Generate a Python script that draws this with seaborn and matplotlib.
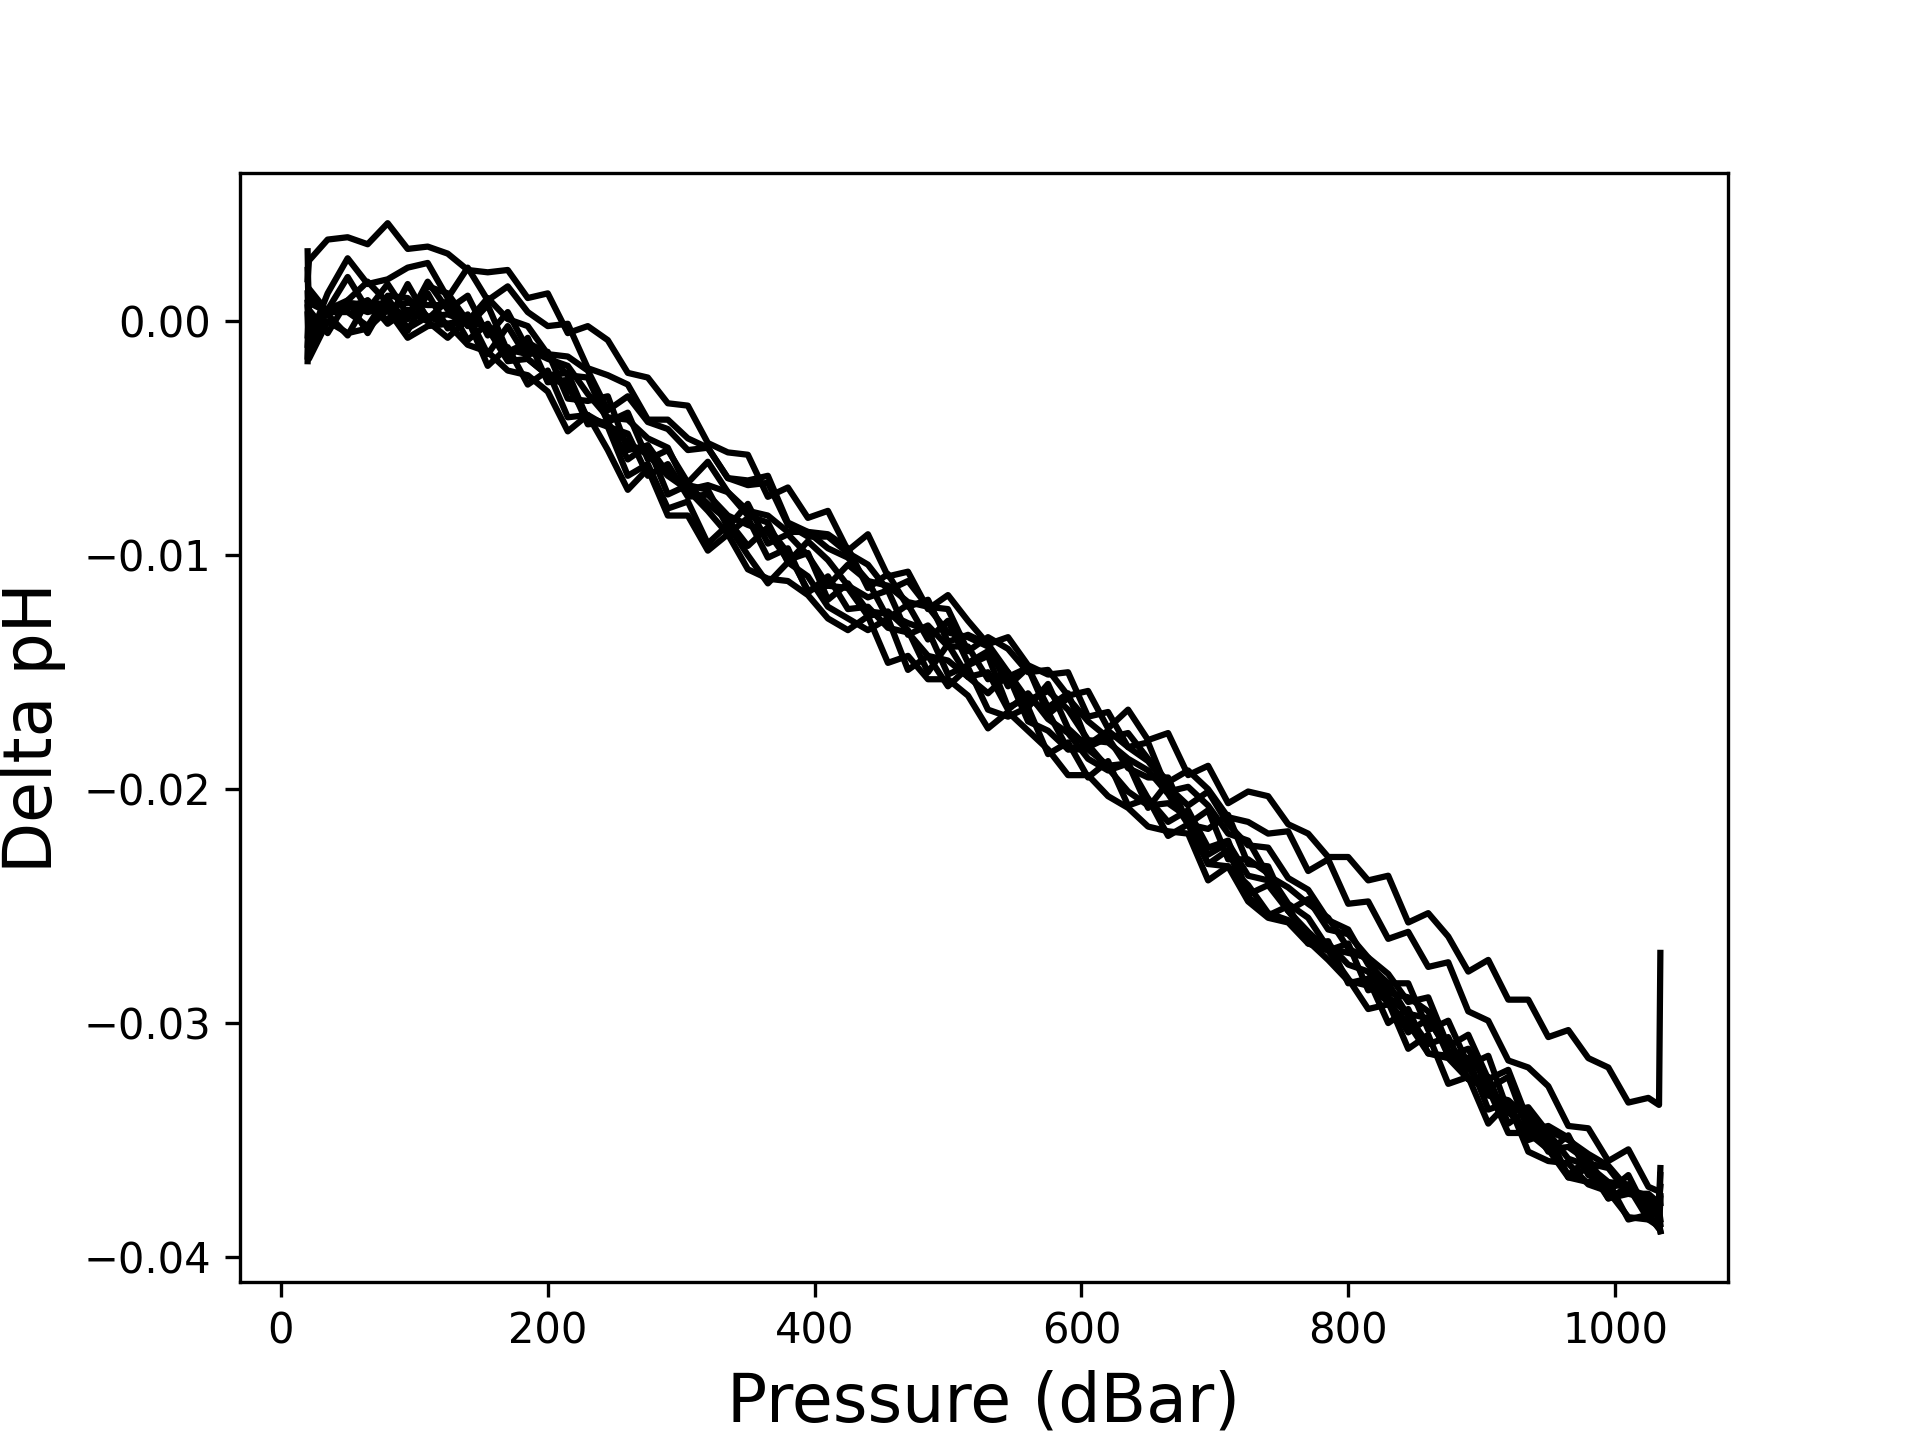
#!/usr/bin/env python3
"""
Delta pH versus pressure for a set of float profiles (all drawn in black).
"""
import pandas as pd
import matplotlib
matplotlib.use("Agg")
import matplotlib.pyplot as plt
import seaborn as sns

# pressure grid shared by every profile (dBar)
pressure = [20, 21, 35, 50, 65, 80, 95, 110, 125, 140,
            155, 170, 185, 200, 215, 230, 245, 260, 275, 290,
            305, 320, 335, 350, 365, 380, 395, 410, 425, 440,
            455, 470, 485, 500, 515, 530, 545, 560, 575, 590,
            605, 620, 635, 650, 665, 680, 695, 710, 725, 740,
            755, 770, 785, 800, 815, 830, 845, 860, 875, 890,
            905, 920, 935, 950, 965, 980, 995, 1010, 1025, 1033,
            1034]

# delta pH, one list per profile
prof_a = [0.0018, 0.0026, 0.0035, 0.0036, 0.0033, 0.0042, 0.0031, 0.0032, 0.0029, 0.0022,
          0.0021, 0.0022, 0.0010, 0.0012, -0.0005, -0.0002, -0.0008, -0.0022, -0.0024, -0.0035,
          -0.0036, -0.0052, -0.0056, -0.0057, -0.0075, -0.0071, -0.0084, -0.0081, -0.0098, -0.0091,
          -0.0109, -0.0107, -0.0123, -0.0117, -0.0128, -0.0138, -0.0135, -0.0147, -0.0151, -0.0150,
          -0.0169, -0.0167, -0.0182, -0.0180, -0.0201, -0.0199, -0.0207, -0.0219, -0.0222, -0.0237,
          -0.0242, -0.0249, -0.0255, -0.0268, -0.0273, -0.0287, -0.0289, -0.0295, -0.0314, -0.0311,
          -0.0328, -0.0323, -0.0346, -0.0344, -0.0349, -0.0360, -0.0362, -0.0373, -0.0373, -0.0377,
          -0.0362]
prof_b = [0.0030, -0.0004, 0.0005, 0.0019, 0.0005, 0.0016, 0.0003, 0.0015, 0.0012, 0.0000,
          0.0010, 0.0001, -0.0002, -0.0014, -0.0015, -0.0021, -0.0038, -0.0032, -0.0043, -0.0046,
          -0.0055, -0.0054, -0.0067, -0.0070, -0.0069, -0.0087, -0.0092, -0.0092, -0.0099, -0.0104,
          -0.0115, -0.0111, -0.0122, -0.0123, -0.0141, -0.0135, -0.0140, -0.0150, -0.0149, -0.0160,
          -0.0158, -0.0174, -0.0166, -0.0179, -0.0176, -0.0194, -0.0190, -0.0206, -0.0201, -0.0203,
          -0.0215, -0.0219, -0.0229, -0.0229, -0.0239, -0.0237, -0.0257, -0.0253, -0.0263, -0.0278,
          -0.0273, -0.0290, -0.0290, -0.0306, -0.0303, -0.0315, -0.0319, -0.0334, -0.0332, -0.0335,
          -0.0270]
prof_c = [-0.0017, 0.0008, 0.0004, 0.0004, -0.0002, 0.0011, 0.0010, 0.0002, 0.0003, 0.0000,
          -0.0002, -0.0012, -0.0014, -0.0013, -0.0033, -0.0034, -0.0032, -0.0055, -0.0053, -0.0065,
          -0.0070, -0.0072, -0.0088, -0.0078, -0.0095, -0.0091, -0.0100, -0.0113, -0.0104, -0.0111,
          -0.0127, -0.0121, -0.0136, -0.0128, -0.0146, -0.0141, -0.0152, -0.0148, -0.0168, -0.0161,
          -0.0171, -0.0178, -0.0176, -0.0187, -0.0197, -0.0192, -0.0200, -0.0212, -0.0214, -0.0219,
          -0.0218, -0.0235, -0.0230, -0.0249, -0.0248, -0.0264, -0.0261, -0.0276, -0.0274, -0.0295,
          -0.0299, -0.0316, -0.0319, -0.0327, -0.0344, -0.0345, -0.0359, -0.0354, -0.0370, -0.0372,
          -0.0377]
prof_d = [0.0012, -0.0008, 0.0012, 0.0027, 0.0016, 0.0018, 0.0023, 0.0025, 0.0010, 0.0023,
          0.0009, 0.0015, 0.0004, -0.0002, -0.0001, -0.0020, -0.0023, -0.0027, -0.0042, -0.0042,
          -0.0050, -0.0054, -0.0067, -0.0068, -0.0066, -0.0086, -0.0090, -0.0091, -0.0097, -0.0114,
          -0.0108, -0.0122, -0.0119, -0.0137, -0.0134, -0.0138, -0.0150, -0.0162, -0.0158, -0.0166,
          -0.0179, -0.0180, -0.0187, -0.0192, -0.0202, -0.0215, -0.0209, -0.0230, -0.0230, -0.0236,
          -0.0249, -0.0255, -0.0268, -0.0270, -0.0272, -0.0289, -0.0296, -0.0298, -0.0312, -0.0319,
          -0.0331, -0.0333, -0.0341, -0.0355, -0.0348, -0.0365, -0.0369, -0.0370, -0.0377, -0.0380,
          -0.0384]
prof_e = [-0.0010, 0.0005, -0.0005, 0.0009, -0.0005, 0.0010, -0.0003, 0.0002, -0.0001, 0.0001,
          -0.0003, -0.0017, -0.0016, -0.0023, -0.0022, -0.0042, -0.0045, -0.0048, -0.0066, -0.0061,
          -0.0075, -0.0074, -0.0083, -0.0087, -0.0090, -0.0102, -0.0099, -0.0119, -0.0112, -0.0124,
          -0.0125, -0.0129, -0.0132, -0.0151, -0.0147, -0.0143, -0.0165, -0.0161, -0.0167, -0.0183,
          -0.0183, -0.0190, -0.0189, -0.0208, -0.0197, -0.0215, -0.0228, -0.0223, -0.0237, -0.0239,
          -0.0252, -0.0261, -0.0269, -0.0266, -0.0286, -0.0283, -0.0297, -0.0309, -0.0306, -0.0324,
          -0.0323, -0.0343, -0.0337, -0.0351, -0.0365, -0.0358, -0.0372, -0.0365, -0.0382, -0.0382,
          -0.0386]
prof_f = [-0.0015, 0.0010, 0.0003, -0.0006, 0.0009, -0.0001, 0.0005, 0.0000, -0.0007, 0.0001,
          -0.0019, -0.0011, -0.0027, -0.0021, -0.0041, -0.0040, -0.0045, -0.0066, -0.0061, -0.0080,
          -0.0077, -0.0095, -0.0087, -0.0100, -0.0112, -0.0103, -0.0109, -0.0122, -0.0127, -0.0132,
          -0.0127, -0.0149, -0.0143, -0.0156, -0.0148, -0.0166, -0.0169, -0.0165, -0.0185, -0.0180,
          -0.0195, -0.0188, -0.0207, -0.0204, -0.0220, -0.0215, -0.0232, -0.0226, -0.0246, -0.0254,
          -0.0250, -0.0266, -0.0265, -0.0283, -0.0281, -0.0300, -0.0294, -0.0313, -0.0314, -0.0315,
          -0.0337, -0.0334, -0.0350, -0.0347, -0.0366, -0.0362, -0.0375, -0.0370, -0.0384, -0.0385,
          -0.0389]
prof_g = [0.0003, -0.0012, 0.0005, 0.0009, 0.0017, 0.0008, 0.0001, 0.0017, 0.0005, 0.0011,
          -0.0006, 0.0004, -0.0012, -0.0016, -0.0019, -0.0031, -0.0041, -0.0042, -0.0050, -0.0054,
          -0.0072, -0.0070, -0.0073, -0.0083, -0.0086, -0.0103, -0.0094, -0.0102, -0.0113, -0.0118,
          -0.0115, -0.0134, -0.0130, -0.0139, -0.0139, -0.0153, -0.0150, -0.0165, -0.0155, -0.0174,
          -0.0182, -0.0178, -0.0191, -0.0195, -0.0195, -0.0215, -0.0217, -0.0211, -0.0232, -0.0233,
          -0.0252, -0.0247, -0.0260, -0.0262, -0.0272, -0.0279, -0.0291, -0.0289, -0.0310, -0.0305,
          -0.0324, -0.0320, -0.0342, -0.0346, -0.0350, -0.0356, -0.0361, -0.0371, -0.0374, -0.0377,
          -0.0370]
prof_h = [0.0006, -0.0016, 0.0000, -0.0005, -0.0003, 0.0005, -0.0007, -0.0002, -0.0001, -0.0010,
          -0.0013, -0.0021, -0.0023, -0.0030, -0.0047, -0.0040, -0.0055, -0.0072, -0.0063, -0.0083,
          -0.0083, -0.0098, -0.0091, -0.0106, -0.0110, -0.0111, -0.0117, -0.0127, -0.0132, -0.0126,
          -0.0146, -0.0143, -0.0153, -0.0153, -0.0160, -0.0174, -0.0167, -0.0175, -0.0183, -0.0194,
          -0.0194, -0.0203, -0.0208, -0.0216, -0.0218, -0.0219, -0.0239, -0.0233, -0.0248, -0.0255,
          -0.0257, -0.0266, -0.0269, -0.0281, -0.0294, -0.0292, -0.0300, -0.0313, -0.0315, -0.0324,
          -0.0328, -0.0347, -0.0347, -0.0354, -0.0366, -0.0368, -0.0368, -0.0384, -0.0382, -0.0388,
          -0.0375]
prof_i = [-0.0006, 0.0014, 0.0004, 0.0006, 0.0009, 0.0000, 0.0016, 0.0001, 0.0009, -0.0002,
          0.0007, -0.0013, -0.0009, -0.0014, -0.0023, -0.0024, -0.0043, -0.0039, -0.0059, -0.0055,
          -0.0069, -0.0060, -0.0073, -0.0081, -0.0083, -0.0090, -0.0090, -0.0097, -0.0101, -0.0111,
          -0.0113, -0.0120, -0.0122, -0.0133, -0.0135, -0.0139, -0.0156, -0.0148, -0.0165, -0.0159,
          -0.0181, -0.0175, -0.0182, -0.0188, -0.0199, -0.0207, -0.0201, -0.0215, -0.0224, -0.0225,
          -0.0238, -0.0243, -0.0256, -0.0260, -0.0275, -0.0283, -0.0283, -0.0303, -0.0299, -0.0318,
          -0.0314, -0.0338, -0.0336, -0.0347, -0.0358, -0.0361, -0.0368, -0.0369, -0.0379, -0.0383,
          -0.0365]
prof_k = [0.0022, -0.0002, 0.0005, 0.0008, 0.0007, 0.0008, -0.0004, 0.0012, -0.0003, 0.0003,
          -0.0014, -0.0002, -0.0016, -0.0023, -0.0028, -0.0041, -0.0044, -0.0052, -0.0057, -0.0066,
          -0.0072, -0.0081, -0.0091, -0.0084, -0.0101, -0.0097, -0.0116, -0.0109, -0.0123, -0.0122,
          -0.0131, -0.0133, -0.0143, -0.0145, -0.0152, -0.0159, -0.0151, -0.0171, -0.0175, -0.0183,
          -0.0181, -0.0191, -0.0201, -0.0207, -0.0206, -0.0212, -0.0232, -0.0233, -0.0241, -0.0253,
          -0.0256, -0.0265, -0.0273, -0.0282, -0.0284, -0.0291, -0.0311, -0.0305, -0.0326, -0.0323,
          -0.0343, -0.0334, -0.0355, -0.0359, -0.0360, -0.0369, -0.0372, -0.0383, -0.0384, -0.0387,
          -0.0389]
prof_l = [0.0008, 0.0000, 0.0003, 0.0007, 0.0004, 0.0006, 0.0008, 0.0007, 0.0007, -0.0008,
          -0.0001, -0.0016, -0.0007, -0.0026, -0.0025, -0.0044, -0.0043, -0.0059, -0.0053, -0.0074,
          -0.0070, -0.0078, -0.0085, -0.0096, -0.0088, -0.0099, -0.0115, -0.0113, -0.0114, -0.0126,
          -0.0124, -0.0132, -0.0150, -0.0138, -0.0152, -0.0150, -0.0166, -0.0159, -0.0170, -0.0176,
          -0.0187, -0.0192, -0.0189, -0.0204, -0.0214, -0.0209, -0.0225, -0.0222, -0.0245, -0.0241,
          -0.0252, -0.0263, -0.0266, -0.0275, -0.0278, -0.0290, -0.0304, -0.0298, -0.0312, -0.0324,
          -0.0327, -0.0338, -0.0346, -0.0354, -0.0353, -0.0359, -0.0375, -0.0373, -0.0375, -0.0381,
          -0.0374]

profiles = {"a": prof_a, "b": prof_b, "c": prof_c, "d": prof_d, "e": prof_e, "f": prof_f,
            "g": prof_g, "h": prof_h, "i": prof_i, "k": prof_k, "l": prof_l}

# long-form table for seaborn
df = pd.concat(
    [pd.DataFrame({"pressure": pressure, "dph": vals, "profile": name})
     for name, vals in profiles.items()],
    ignore_index=True,
)

fig, ax = plt.subplots(figsize=(6.4, 4.8), dpi=300)
sns.lineplot(data=df, x="pressure", y="dph", units="profile", estimator=None,
             color="black", linewidth=1.5, legend=False, ax=ax)

ax.set_xlabel("Pressure (dBar)", fontsize=16)
ax.set_ylabel("Delta pH", fontsize=16)
ax.tick_params(axis="both", labelsize=10)
ax.set_xticks([0, 200, 400, 600, 800, 1000])
ax.set_yticks([-0.04, -0.03, -0.02, -0.01, 0.00])

fig.savefig("out.png", dpi=300)
plt.close(fig)
